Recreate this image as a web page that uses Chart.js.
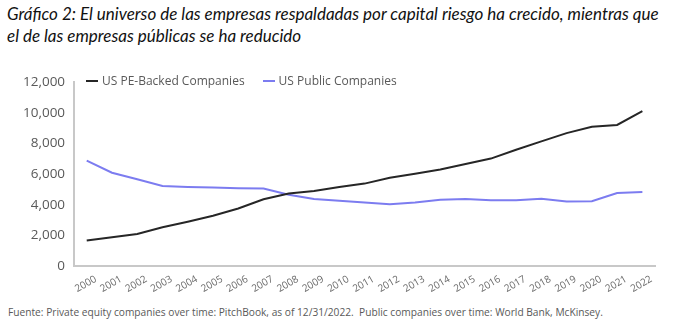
<!DOCTYPE html>
<html>
<head>
<meta charset="utf-8">
<script src="https://cdn.jsdelivr.net/npm/chart.js@4/dist/chart.umd.min.js"></script>
<style>
  html, body { margin: 0; padding: 0; background: #fff; width: 673px; height: 331px; overflow: hidden; }
  #title { position: absolute; left: 7px; top: 3px; font-family: "Lato", sans-serif; font-style: italic; font-size: 17px; line-height: 22px; color: #111; }
  #wrap { position: absolute; left: 0; top: 60px; width: 673px; height: 242px; }
  #legend { position: absolute; top: 72px; left: 86px; font-family: "Open Sans", sans-serif; font-size: 12px; color: #595959; white-space: nowrap; }
  #legend span.item { display: inline-block; margin-right: 18px; }
  #legend span.sw { display: inline-block; width: 12px; height: 2px; vertical-align: middle; margin-right: 4px; position: relative; top: -1px; }
  #source { position: absolute; left: 8px; top: 305px; font-family: "Open Sans", sans-serif; font-size: 10.2px; color: #595959; white-space: nowrap; }
</style>
</head>
<body>
<div id="title">Gráfico 2: El universo de las empresas respaldadas por capital riesgo ha crecido, mientras que<br>el de las empresas públicas se ha reducido</div>
<div id="wrap"><canvas id="c" width="673" height="242"></canvas></div>
<div id="legend"></div>
<div id="source">Fuente: Private equity companies over time: PitchBook, as of 12/31/2022.&nbsp; Public companies over time: World Bank, McKinsey.</div>
<script>
const years = ["2000","2001","2002","2003","2004","2005","2006","2007","2008","2009","2010","2011","2012","2013","2014","2015","2016","2017","2018","2019","2020","2021","2022"];
const seriesNames = ["US PE-Backed Companies", "US Public Companies"];
const peBacked = [1680, 1890, 2100, 2540, 2900, 3290, 3760, 4360, 4730, 4900, 5160, 5380, 5760, 6020, 6300, 6660, 7010, 7590, 8130, 8670, 9080, 9200, 10100];
const publicCos = [6880, 6090, 5660, 5230, 5160, 5120, 5080, 5060, 4650, 4370, 4260, 4150, 4040, 4150, 4320, 4370, 4300, 4300, 4390, 4210, 4230, 4770, 4840];
const yTicks = [0, 2000, 4000, 6000, 8000, 10000, 12000];
const colors = ["#262626", "#7c7cf0"];

const lg = document.getElementById('legend');
seriesNames.forEach((n, i) => {
  const it = document.createElement('span'); it.className = 'item';
  const sw = document.createElement('span'); sw.className = 'sw'; sw.style.background = colors[i];
  it.appendChild(sw); it.appendChild(document.createTextNode(n)); lg.appendChild(it);
});

new Chart(document.getElementById('c'), {
  type: 'line',
  data: {
    labels: years,
    datasets: [
      { label: seriesNames[0], data: peBacked, borderColor: colors[0], borderWidth: 2, pointRadius: 0, tension: 0, fill: false },
      { label: seriesNames[1], data: publicCos, borderColor: colors[1], borderWidth: 2, pointRadius: 0, tension: 0, fill: false }
    ]
  },
  options: {
    responsive: false,
    animation: false,
    layout: { padding: { left: 14, right: 18, top: 22, bottom: 0 } },
    plugins: { legend: { display: false }, tooltip: { enabled: false } },
    scales: {
      x: {
        offset: true,
        grid: { display: false, drawTicks: false },
        border: { display: true, color: '#c8c8c8', width: 2 },
        ticks: { color: '#6b6b6b', font: { family: 'Open Sans', size: 10 }, maxRotation: 30, minRotation: 30, autoSkip: false, padding: 7, labelOffset: 9 }
      },
      y: {
        min: 0, max: 12000,
        afterBuildTicks: (s) => { s.ticks = yTicks.map(v => ({ value: v })); },
        grid: { display: false, drawTicks: false },
        border: { display: true, color: '#c8c8c8', width: 2 },
        ticks: { color: '#595959', font: { family: 'Open Sans', size: 13.5 }, padding: 9,
                 callback: (v) => v.toLocaleString('en-US') }
      }
    }
  }
});
</script>
</body>
</html>
